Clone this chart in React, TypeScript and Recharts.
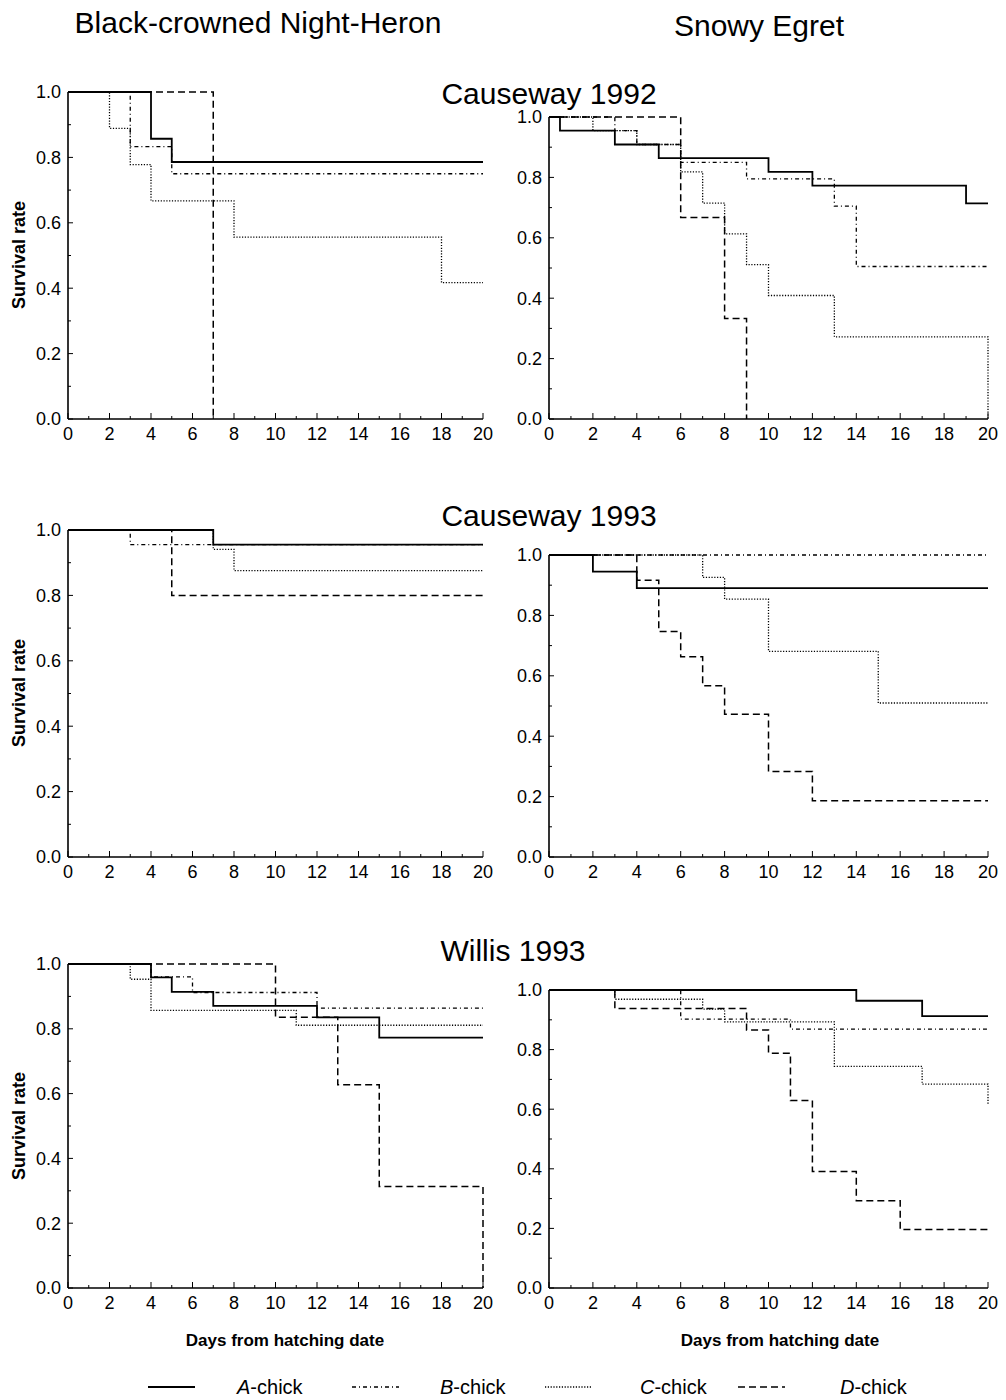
// ** React
import React from 'react';

// ** Chart library
import { LineChart, Line, XAxis, YAxis } from 'recharts';

type Step = [number, number];

// Black-crowned Night-Heron, Causeway 1992
const hc92A: Step[] = [[0, 1], [4, 0.857], [5, 0.786], [20, 0.786]];
const hc92B: Step[] = [[0, 1], [3, 0.833], [5, 0.75], [20, 0.75]];
const hc92C: Step[] = [[0, 1], [2, 0.889], [3, 0.778], [4, 0.667], [8, 0.556], [18, 0.417], [20, 0.417]];
const hc92D: Step[] = [[0, 1], [7, 0]];

// Snowy Egret, Causeway 1992
const sc92A: Step[] = [[0, 1], [0.5, 0.955], [3, 0.909], [5, 0.864], [10, 0.818], [12, 0.773], [19, 0.714], [20, 0.714]];
const sc92B: Step[] = [[0, 1], [3, 0.955], [4, 0.909], [6, 0.85], [9, 0.795], [13, 0.705], [14, 0.505], [20, 0.505]];
const sc92C: Step[] = [[0, 1], [2, 0.955], [4, 0.909], [6, 0.818], [7, 0.715], [8, 0.613], [9, 0.511], [10, 0.409], [13, 0.272], [20, 0.272], [20, 0]];
const sc92D: Step[] = [[0, 1], [6, 0.667], [8, 0.333], [9, 0]];

// Black-crowned Night-Heron, Causeway 1993
const hc93A: Step[] = [[0, 1], [7, 0.955], [20, 0.955]];
const hc93B: Step[] = [[0, 1], [3, 0.955], [20, 0.955]];
const hc93C: Step[] = [[0, 1], [7, 0.941], [8, 0.876], [20, 0.876]];
const hc93D: Step[] = [[0, 1], [5, 0.8], [20, 0.8]];

// Snowy Egret, Causeway 1993
const sc93A: Step[] = [[0, 1], [2, 0.945], [4, 0.89], [20, 0.89]];
const sc93B: Step[] = [[0, 1], [20, 1]];
const sc93C: Step[] = [[0, 1], [7, 0.926], [8, 0.854], [10, 0.681], [15, 0.51], [20, 0.51]];
const sc93D: Step[] = [[0, 1], [4, 0.916], [5, 0.747], [6, 0.663], [7, 0.567], [8, 0.473], [10, 0.283], [12, 0.186], [20, 0.186]];

// Black-crowned Night-Heron, Willis 1993
const hw93A: Step[] = [[0, 1], [4, 0.959], [5, 0.914], [7, 0.871], [12, 0.835], [15, 0.773], [20, 0.773]];
const hw93B: Step[] = [[0, 1], [4, 0.96], [6, 0.912], [12, 0.864], [20, 0.864]];
const hw93C: Step[] = [[0, 1], [3, 0.953], [4, 0.857], [11, 0.811], [20, 0.811]];
const hw93D: Step[] = [[0, 1], [10, 0.836], [13, 0.627], [15, 0.313], [20, 0.313], [20, 0]];

// Snowy Egret, Willis 1993
const sw93A: Step[] = [[0, 1], [14, 0.964], [17, 0.912], [20, 0.912]];
const sw93B: Step[] = [[0, 1], [6, 0.902], [11, 0.869], [20, 0.869]];
const sw93C: Step[] = [[0, 1], [3, 0.969], [7, 0.936], [8, 0.893], [13, 0.744], [17, 0.684], [20, 0.684], [20, 0.616]];
const sw93D: Step[] = [[0, 1], [3, 0.938], [9, 0.866], [10, 0.788], [11, 0.629], [12, 0.391], [14, 0.293], [16, 0.196], [20, 0.196]];

const xTicks = [0, 1, 2, 3, 4, 5, 6, 7, 8, 9, 10, 11, 12, 13, 14, 15, 16, 17, 18, 19, 20];
const yTicks = [0, 0.1, 0.2, 0.3, 0.4, 0.5, 0.6, 0.7, 0.8, 0.9, 1];

const chickLabels = ['A', 'B', 'C', 'D'];
const rowTitles = ['Causeway 1992', 'Causeway 1993', 'Willis 1993'];

const FONT = '"Liberation Sans", Arial, sans-serif';

// line look per chick
const styles = [
  { width: 1.8, dash: undefined },
  { width: 1.3, dash: '4 3 1 3' },
  { width: 1.3, dash: '1.2 1.6' },
  { width: 1.5, dash: '7 4' },
];

const toRows = (s: Step[]) => s.map(([day, rate]) => ({ day, rate }));

const YTick = (props: any) => {
  const { x, y, payload } = props;
  const major = Math.round(payload.value * 10) % 2 === 0;
  return (
    <g>
      <line x1={x} y1={y} x2={x + (major ? 5 : 3)} y2={y} stroke="#000" strokeWidth={1} />
      {major && (
        <text x={x - 7} y={y} dy="0.36em" textAnchor="end" fontSize={18} fontFamily={FONT} fill="#000">
          {payload.value.toFixed(1)}
        </text>
      )}
    </g>
  );
};

const XTick = (props: any) => {
  const { x, y, payload } = props;
  const major = payload.value % 2 === 0;
  return (
    <g>
      <line x1={x} y1={y} x2={x} y2={y - (major ? 6 : 3)} stroke="#000" strokeWidth={1} />
      {major && (
        <text x={x} y={y + 15} dy="0.36em" textAnchor="middle" fontSize={18} fontFamily={FONT} fill="#000">
          {payload.value}
        </text>
      )}
    </g>
  );
};

type PanelProps = {
  left: number;
  top: number;
  width: number;
  height: number;
  series: Step[][];
};

const Panel: React.FC<PanelProps> = ({ left, top, width, height, series }) => (
  <div style={{ position: 'absolute', left: left - 60, top: top - 10 }}>
    <LineChart width={width + 80} height={height + 40} margin={{ top: 10, right: 20, bottom: 0, left: 0 }}>
      <XAxis
        dataKey="day"
        type="number"
        domain={[0, 20]}
        ticks={xTicks}
        interval={0}
        height={30}
        tickSize={0}
        tickMargin={0}
        tickLine={false}
        tick={XTick}
        axisLine={{ stroke: '#000', strokeWidth: 1.6 }}
        allowDuplicatedCategory={false}
      />
      <YAxis
        type="number"
        domain={[0, 1]}
        ticks={yTicks}
        interval={0}
        width={60}
        tickSize={0}
        tickMargin={0}
        tickLine={false}
        tick={YTick}
        axisLine={{ stroke: '#000', strokeWidth: 1.6 }}
      />
      {series.map((s, i) => (
        <Line
          key={chickLabels[i]}
          data={toRows(s)}
          dataKey="rate"
          type="stepAfter"
          stroke="#000"
          strokeWidth={styles[i].width}
          strokeDasharray={styles[i].dash}
          dot={false}
          activeDot={false}
          isAnimationActive={false}
        />
      ))}
    </LineChart>
  </div>
);

// plot areas per column
const leftCol = { left: 68, width: 415 };
const rightCol = { left: 549, width: 439 };

const App: React.FC = () => (
  <div style={{ position: 'absolute', left: 0, top: 0, width: 1006, height: 1400, background: '#fff', fontFamily: FONT }}>
    <Panel {...leftCol} top={92} height={327} series={[hc92A, hc92B, hc92C, hc92D]} />
    <Panel {...rightCol} top={117} height={302} series={[sc92A, sc92B, sc92C, sc92D]} />
    <Panel {...leftCol} top={530} height={327} series={[hc93A, hc93B, hc93C, hc93D]} />
    <Panel {...rightCol} top={555} height={302} series={[sc93A, sc93B, sc93C, sc93D]} />
    <Panel {...leftCol} top={964} height={324} series={[hw93A, hw93B, hw93C, hw93D]} />
    <Panel {...rightCol} top={990} height={298} series={[sw93A, sw93B, sw93C, sw93D]} />

    <svg width={1006} height={1400} style={{ position: 'absolute', left: 0, top: 0, pointerEvents: 'none' }}>
      <g fontFamily={FONT} fill="#000">
        <text x={258} y={33} fontSize={30} textAnchor="middle">Black-crowned Night-Heron</text>
        <text x={759} y={36} fontSize={30} textAnchor="middle">Snowy Egret</text>
        <text x={549} y={104} fontSize={30} textAnchor="middle">{rowTitles[0]}</text>
        <text x={549} y={526} fontSize={30} textAnchor="middle">{rowTitles[1]}</text>
        <text x={513} y={961} fontSize={30} textAnchor="middle">{rowTitles[2]}</text>

        {[255, 693, 1126].map((cy) => (
          <text key={cy} transform={`translate(25,${cy}) rotate(-90)`} fontSize={18} fontWeight="bold" textAnchor="middle">
            Survival rate
          </text>
        ))}

        <text x={285} y={1346} fontSize={17} fontWeight="bold" textAnchor="middle">Days from hatching date</text>
        <text x={780} y={1346} fontSize={17} fontWeight="bold" textAnchor="middle">Days from hatching date</text>

        {chickLabels.map((c, i) => {
          const lx = [148, 352, 545, 738][i];
          const tx = [237, 440, 640, 840][i];
          return (
            <g key={c}>
              <line x1={lx} y1={1387} x2={lx + 47} y2={1387} stroke="#000" strokeWidth={styles[i].width} strokeDasharray={styles[i].dash} />
              <text x={tx} y={1394} fontSize={20}>
                <tspan fontStyle="italic">{c}</tspan>-chick
              </text>
            </g>
          );
        })}
      </g>
    </svg>
  </div>
);

export default App;
